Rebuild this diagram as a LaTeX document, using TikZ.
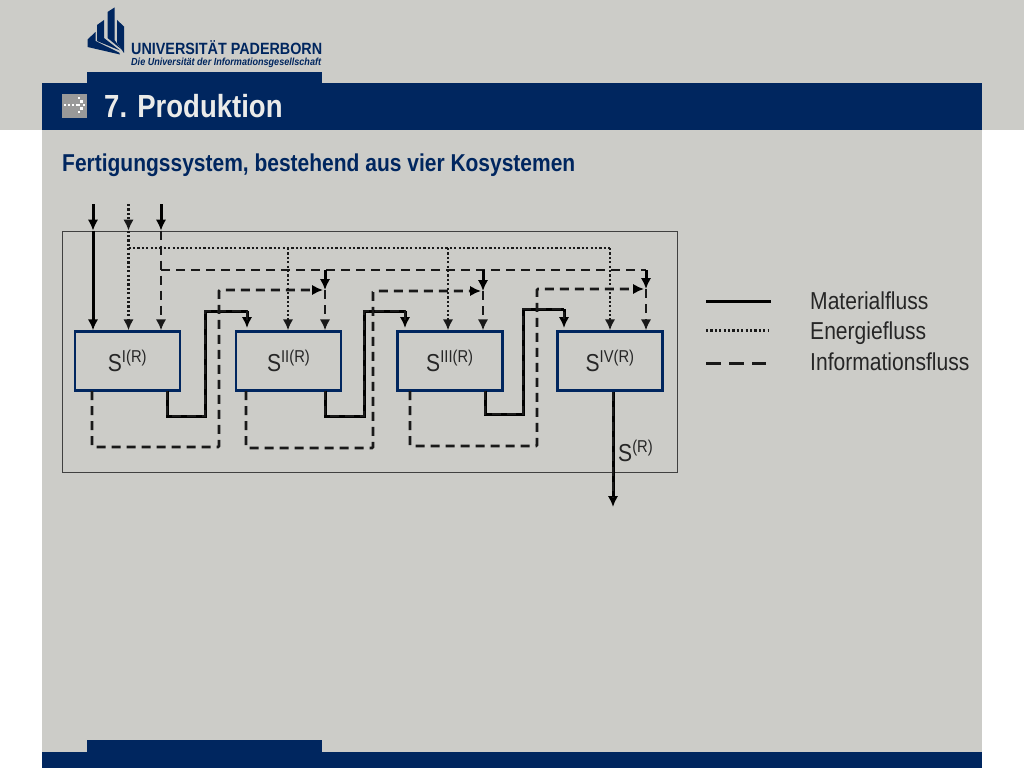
\documentclass[tikz,border=0pt]{standalone}
\usepackage{fontspec}
\setmainfont[FakeStretch=0.86]{Liberation Sans}
\newfontfamily\logofont[FakeStretch=0.88]{Liberation Sans}
\usetikzlibrary{arrows.meta,positioning,calc}
\definecolor{upbblue}{HTML}{00265F}
\definecolor{upbgrey}{HTML}{CCCCC8}
\tikzset{
  >={Latex[length=11pt,width=10.5pt]},
  matflow/.style={line width=3pt,black},
  enflow/.style={line width=2.8pt,black!90,dash pattern=on 2.2pt off 2.2pt},
  infoflow/.style={line width=2.8pt,black!90,dash pattern=on 9pt off 6pt},
  subsys/.style={draw=upbblue,line width=2.4pt,fill=upbgrey,minimum width=105pt,minimum height=59pt,inner sep=0pt,font=\fontsize{24.5}{28}\selectfont,text=black!85},
  legendtext/.style={anchor=base west,inner sep=0pt,font=\fontsize{24.5}{28}\selectfont,text=black!85}
}
\begin{document}
\begin{tikzpicture}[x=1pt,y=-1pt]
\useasboundingbox (0,0) rectangle (1024,768);
% page
\fill[white] (0,0) rectangle (1024,768);
\fill[upbgrey] (0,0) rectangle (1024,130);
\fill[upbgrey] (42,130) rectangle (982,768);
\fill[upbblue] (42,83) rectangle (982,130);
\fill[upbblue] (87,72) rectangle (322,84);
\fill[upbblue] (42,752) rectangle (982,768);
\fill[upbblue] (87,740) rectangle (322,753);
% logo
\fill[upbblue] (87.5,39.5) -- (95.5,32) -- (95.5,41) -- (119,52.5) -- (120,54.5) -- (87.5,47) -- cycle;
\fill[upbblue] (97,25) -- (104,20) -- (104,38) -- (120,50.5) -- (97,41) -- cycle;
\fill[upbblue] (107.5,12) -- (114.5,7.5) -- (114.5,40) -- (121,49) -- (107.5,38) -- cycle;
\fill[upbblue] (117,20) -- (124,26.5) -- (124,53) -- (117,43) -- cycle;
\node[anchor=base west,inner sep=0pt,text=upbblue,font=\logofont\bfseries\fontsize{16.3}{18}\selectfont] (logoname) at (131,55) {UNIVERSITÄT PADERBORN};
\node[anchor=base west,inner sep=0pt,text=upbblue,font=\logofont\bfseries\itshape\fontsize{10.3}{11}\selectfont] (logoline) at (131,65.7) {Die Universität der Informationsgesellschaft};
% title
\fill[black!40] (62,94) rectangle (87,118);
\foreach \dotx/\doty in {65/105,69/105,73/105,77/105,79/98,81.7/101.5,79/105,84/105,81.7/108.5,79/112} {
  \fill[white] (\dotx-1.4,\doty-1.4) rectangle (\dotx+1.4,\doty+1.4);
}
\node[anchor=west,inner sep=0pt,text=upbgrey!40!white,font=\bfseries\fontsize{32}{36}\selectfont] (title) at (104,106) {7. Produktion};
\node[anchor=west,inner sep=0pt,text=upbblue,font=\bfseries\fontsize{24.4}{26}\selectfont] (subtitle) at (62,165) {Fertigungssystem, bestehend aus vier Kosystemen};
% frame and subsystems
\node[draw=black!75,line width=.8pt,minimum width=615pt,minimum height=241pt,inner sep=0pt] (frame) at (369.5,351.5) {};
\node[subsys] (sysI) at (127.5,361) {S\textsuperscript{I(R)}};
\node[subsys,right=53.8pt of sysI] (sysII) {S\textsuperscript{II(R)}};
\node[subsys,right=53.8pt of sysII] (sysIII) {S\textsuperscript{III(R)}};
\node[subsys,right=52.8pt of sysIII] (sysIV) {S\textsuperscript{IV(R)}};
% inflows
\coordinate (matin) at (93,204);
\coordinate (enin) at (128.5,204);
\coordinate (infoin) at (161,204);
\coordinate (enbus) at (128.5,248);
\coordinate (infobus) at (161,270);
\draw[matflow,->] (matin) -- (matin |- frame.north);
\draw[enflow,->] (enin) -- (enin |- frame.north);
\draw[matflow,->] (infoin) -- (infoin |- frame.north);
\draw[matflow,->] (matin |- frame.north) -- (matin |- sysI.north);
\draw[enflow,->] (enin |- frame.north) -- (enin |- sysI.north);
\draw[infoflow,->] (infoin |- frame.north) -- (infoin |- sysI.north);
% energy and information lines
\draw[enflow] (enbus) -- (610,248);
\draw[infoflow] (infobus) -- (646,270);
\foreach \sys/\enx/\infox/\backy in {sysII/288/325/290,sysIII/448/483/291,sysIV/610/646/289} {
  \coordinate (en\sys) at (\enx,248);
  \coordinate (tap\sys) at (\infox,270);
  \coordinate (join\sys) at (\infox,\backy);
  \draw[enflow,->] (en\sys) -- (en\sys |- \sys.north);
  \draw[matflow,->] (tap\sys) -- (join\sys);
  \draw[infoflow,->] (join\sys) -- (join\sys |- \sys.north);
}
% material and information between the subsystems
\foreach \from/\to/\outx/\lowy/\upx/\highy/\inx in {%
  sysI/sysII/167/416/205/311/247,%
  sysII/sysIII/325/416/364/311/405,%
  sysIII/sysIV/485/414/523/309/564%
} {
  \coordinate (out\from) at (\outx,391);
  \coordinate (low\from) at (\outx,\lowy);
  \coordinate (rise\from) at (\upx,\lowy);
  \coordinate (top\from) at (\upx,\highy);
  \coordinate (over\from) at (\inx,\highy);
  \coordinate (into\from) at (\inx,328);
  \draw[matflow,line join=miter] (out\from) -- (low\from) -- (rise\from) -- (top\from) -- (over\from);
  \draw[matflow,->] (over\from) -- (into\from);
  \draw[infoflow,xshift=1.5pt,yshift=-1.5pt] (out\from) -- (low\from) -- (rise\from) -- (top\from) -- (over\from) -- ++(0,10);
}
% information returned to the next subsystem
\foreach \from/\to/\outx/\lowy/\upx/\highy in {%
  sysI/sysII/92/447/219/290,%
  sysII/sysIII/246/448/373/291,%
  sysIII/sysIV/410/446/537/289%
} {
  \coordinate (back\from) at (\outx,391);
  \coordinate (backlow\from) at (\outx,\lowy);
  \coordinate (backrise\from) at (\upx,\lowy);
  \coordinate (backtop\from) at (\upx,\highy);
  \draw[infoflow,rounded corners=1pt] (back\from) -- (backlow\from) -- (backrise\from) -- (backtop\from) -- ($(join\to)+(-12,0)$);
  \draw[matflow,->] ($(join\to)+(-13,0)$) -- ($(join\to)+(-2,0)$);
}
% output
\coordinate (outflow) at (613,507);
\draw[matflow,->] (outflow |- sysIV.south) -- (outflow);
\draw[infoflow,xshift=1.5pt] (outflow |- sysIV.south) -- ($(outflow)+(0,-9)$);
\node[anchor=west,inner sep=0pt,font=\fontsize{24.5}{28}\selectfont,text=black!85] (outlabel) at (618,451) {S\textsuperscript{(R)}};
% legend
\node[legendtext] (legmat) at (810,309) {Materialfluss};
\node[legendtext] (legen) at (810,339.5) {Energiefluss};
\node[legendtext] (leginfo) at (810,370) {Informationsfluss};
\coordinate (legmatl) at (706,301);
\coordinate (legenl) at (706,330);
\coordinate (leginfol) at (706,363);
\draw[matflow,line width=3pt] (legmatl) -- ++(65,0);
\draw[enflow,line width=3pt] (legenl) -- ++(62,0);
\draw[infoflow,line width=3pt,dash pattern=on 15pt off 8pt] (leginfol) -- ++(60,0);
\end{tikzpicture}
\end{document}
